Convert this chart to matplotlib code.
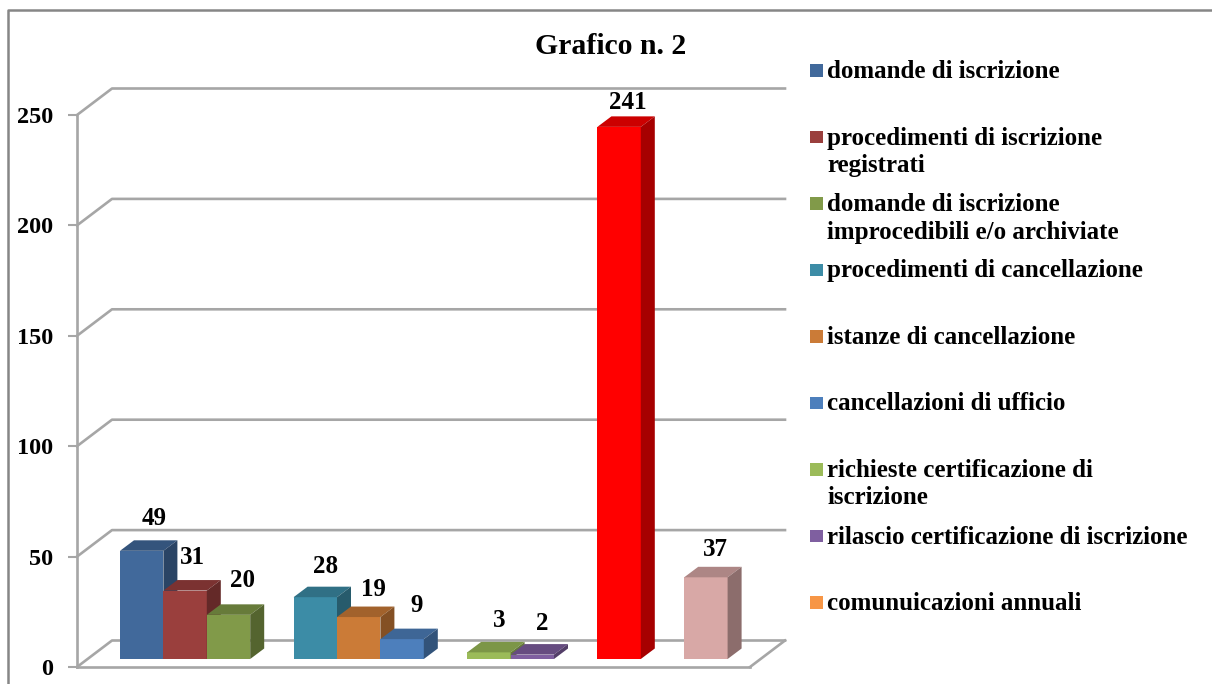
import matplotlib
matplotlib.use('Agg')
import matplotlib.pyplot as plt
from matplotlib.colors import to_rgb
from matplotlib.patches import Polygon, Rectangle

plt.rcParams['font.family'] = ['Liberation Serif', 'DejaVu Serif']
plt.rcParams['font.weight'] = 'bold'

W, H = 1212, 684

# values
values = [49, 31, 20, 28, 19, 9, 3, 2, 241, 37]
slots = [0, 1, 2, 4, 5, 6, 8, 9, 11, 13]
bar_colors = ['#41699b', '#9a3f3d', '#819a49', '#3c8ca6', '#cb7b37',
              '#4d7fbc', '#9bbb59', '#7f5fa0', '#ff0000', '#d8a8a6']
legend_labels = ['domande di iscrizione',
                 'procedimenti di iscrizione\nregistrati',
                 'domande di iscrizione\nimprocedibili e/o archiviate',
                 'procedimenti di cancellazione',
                 'istanze di cancellazione',
                 'cancellazioni di ufficio',
                 'richieste certificazione di\niscrizione',
                 'rilascio certificazione di iscrizione',
                 'comunuicazioni annuali']
legend_colors = ['#41699b', '#9a3f3d', '#819a49', '#3c8ca6', '#cb7b37',
                 '#4d7fbc', '#9bbb59', '#7f5fa0', '#f79646']
yticks = [0, 50, 100, 150, 200, 250]

# label nudges in pixels, from the middle of the bar top
label_right = [12, 7, 14, 10, 15, 14, 10, 10, 9, 10]
label_up = [32, 33, 34, 31, 28, 34, 32, 31, 24, 28]

GRID = '#a6a6a6'
left, right, y0, y250 = 77, 750, 667, 115
slot_px = 43.4
first_bar = 120


def shade(color, k):
    return tuple(c * k for c in to_rgb(color))


fig = plt.figure(figsize=(W / 100, H / 100), dpi=100)
ax = fig.add_axes([left / W, 1 - y0 / H, (right - left) / W, (y0 - y250) / H])
ax.set_xlim((left - first_bar) / slot_px, (right - first_bar) / slot_px)
ax.set_ylim(0, 250)
ux = slot_px
uy = (y0 - y250) / 250

# depth of the floor and of the bars, converted to data units
wall_dx, wall_dy = 35 / ux, 26.5 / uy
bar_dx, bar_dy = 14 / ux, 10.5 / uy
base = 8 / uy
x0, x1 = ax.get_xlim()

for t in yticks:
    ax.plot([x0, x0 + wall_dx, x1 + wall_dx], [t, t + wall_dy, t + wall_dy],
            color=GRID, lw=1.9, clip_on=False, zorder=1)
ax.plot([x1, x1 + wall_dx], [0, wall_dy], color=GRID, lw=1.9, clip_on=False, zorder=1)

for s, v, c, r, up in zip(slots, values, bar_colors, label_right, label_up):
    top = base + v
    ax.add_patch(Rectangle((s, base), 1, v, fc=c, ec='none', zorder=3, clip_on=False))
    ax.add_patch(Polygon([(s, top), (s + bar_dx, top + bar_dy), (s + 1 + bar_dx, top + bar_dy), (s + 1, top)],
                         fc=shade(c, 0.8), ec='none', zorder=3, clip_on=False))
    ax.add_patch(Polygon([(s + 1, base), (s + 1 + bar_dx, base + bar_dy), (s + 1 + bar_dx, top + bar_dy), (s + 1, top)],
                         fc=shade(c, 0.65), ec='none', zorder=3, clip_on=False))
    ax.annotate(str(v), (s + 0.5, top), xytext=(r * 0.72, up * 0.72), textcoords='offset points',
                ha='center', va='center', fontsize=18, color='black', zorder=5)

for side in ['top', 'right']:
    ax.spines[side].set_visible(False)
for side in ['left', 'bottom']:
    ax.spines[side].set_color(GRID)
    ax.spines[side].set_linewidth(1.9)
ax.set_xticks([])
ax.set_yticks(yticks)
ax.tick_params(axis='y', length=6.5, width=1.5, color=GRID, pad=10.5, labelsize=17.5)

# outer frame: only top and left show
frame = fig.add_axes([0, 0, 1, 1], zorder=-1)
frame.set_xlim(0, W)
frame.set_ylim(H, 0)
frame.axis('off')
frame.plot([8, 8, W], [H, 9.5, 9.5], color='#868686', lw=1.8)

frame.text(611, 46, 'Grafico n. 2', ha='center', va='center', fontsize=19.5 * 1.1, color='black')

# each legend line is its own text, marker sits on the first line
for i, (lab, col) in enumerate(zip(legend_labels, legend_colors)):
    y = 70.5 + i * 66.5
    frame.add_patch(Rectangle((810, y - 6.25), 12.5, 12.5, fc=col, ec='none'))
    for j, line in enumerate(lab.split('\n')):
        frame.text(827, y + 7.5 + j * 27.5, line, ha='left', va='baseline', fontsize=18, color='black')

fig.savefig('out.png', dpi=100)
